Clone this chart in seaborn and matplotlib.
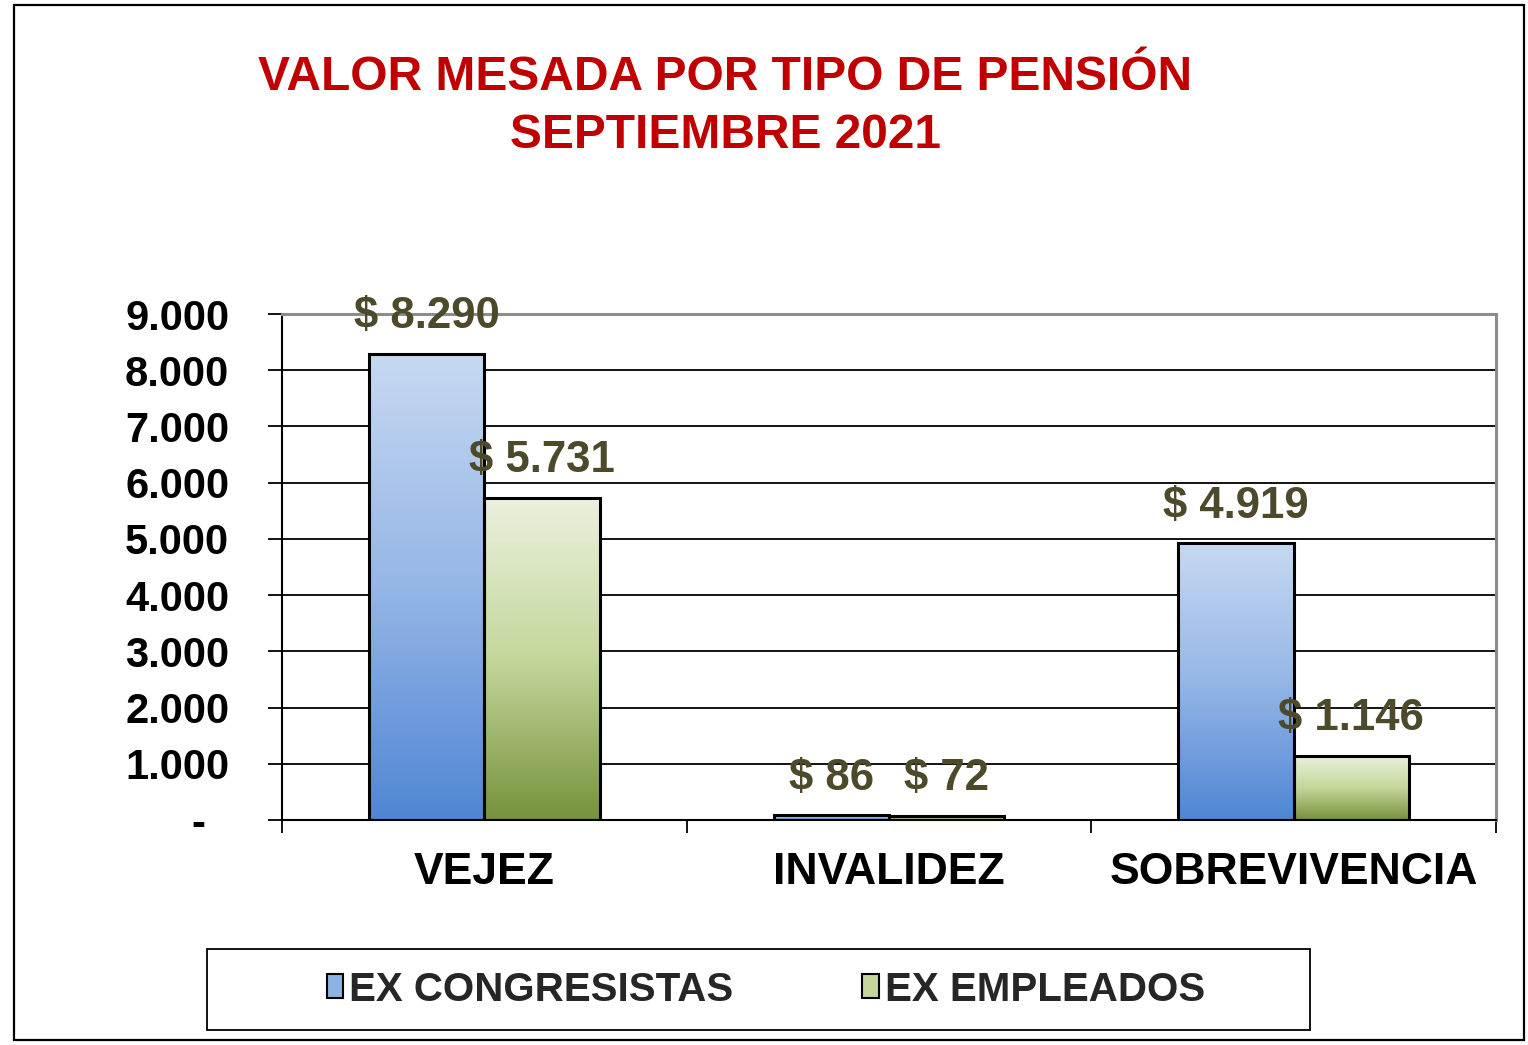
"""
Valor mesada por tipo de pensión - septiembre 2021
Barras agrupadas con relleno degradado
"""
import matplotlib
matplotlib.use('Agg')
import numpy as np
import pandas as pd
import matplotlib.pyplot as plt
import seaborn as sns
from matplotlib.colors import LinearSegmentedColormap
from matplotlib.patches import Rectangle, Patch
from matplotlib.ticker import FuncFormatter

# datos
categorias = ['VEJEZ', 'INVALIDEZ', 'SOBREVIVENCIA']
grupos = ['EX CONGRESISTAS', 'EX EMPLEADOS']
ex_congresistas = [8290, 86, 4919]
ex_empleados = [5731, 72, 1146]
y_ticks = [0, 1000, 2000, 3000, 4000, 5000, 6000, 7000, 8000, 9000]

titulo = 'VALOR MESADA POR TIPO DE PENSIÓN\nSEPTIEMBRE 2021'

df = pd.DataFrame({
    'tipo': categorias * 2,
    'grupo': [grupos[0]] * 3 + [grupos[1]] * 3,
    'valor': ex_congresistas + ex_empleados,
})

sns.set_style('white')
plt.rcParams['font.family'] = ['Liberation Sans', 'DejaVu Sans']
plt.rcParams['font.weight'] = 'bold'

fig = plt.figure(figsize=(15.28, 10.45), dpi=100)
ax = fig.add_axes([0.1846, 0.2153, 0.7945, 0.4842])

sns.barplot(data=df, x='tipo', y='valor', hue='grupo', order=categorias,
            hue_order=grupos, width=0.57, gap=0, ax=ax, legend=False,
            palette=['#8db3e2', '#c3d69b'], edgecolor='black', linewidth=2.2,
            zorder=3)

# degradado vertical dentro de cada barra
cmaps = [
    LinearSegmentedColormap.from_list('azul', ['#4f86d3', '#95b6e6', '#c6d9f1']),
    LinearSegmentedColormap.from_list('verde', ['#76923c', '#c4d79b', '#ebf1de']),
]
grad = np.linspace(0, 1, 256).reshape(-1, 1)
for cont, cmap in zip(ax.containers, cmaps):
    for bar in cont:
        x0, y0 = bar.get_x(), bar.get_y()
        w, h = bar.get_width(), bar.get_height()
        im = ax.imshow(grad, extent=[x0, x0 + w, y0, y0 + h], origin='lower',
                       cmap=cmap, aspect='auto', zorder=2.5)
        im.set_clip_path(bar)
        bar.set_facecolor('none')

# etiquetas de valor
for cont in ax.containers:
    etiquetas = [f'$ {int(b.get_height()):,}'.replace(',', '.') for b in cont]
    ax.bar_label(cont, labels=etiquetas, padding=12, fontsize=31.5,
                 fontweight='bold', color='#4d4a2b', zorder=5)

ax.set_xlim(-0.5, 2.5)
ax.set_ylim(0, 9000)
ax.set_yticks(y_ticks)
ax.yaxis.set_major_formatter(FuncFormatter(
    lambda v, p: '-  ' if v == 0 else f'{int(v):,}'.replace(',', '.')))
ax.set_xticks([0, 1, 2])
ax.set_xticklabels(categorias)
ax.set_xticks([-0.5, 0.5, 1.5, 2.5], minor=True)
ax.set_xlabel('')
ax.set_ylabel('')

ax.tick_params(axis='y', left=True, length=10, width=1.3, direction='out',
               pad=28, labelsize=30, colors='black')
ax.tick_params(axis='x', which='major', bottom=True, length=0, pad=23,
               labelsize=32, colors='black')
ax.tick_params(axis='x', which='minor', bottom=True, length=9, width=1.3,
               direction='out', color='black')

ax.set_axisbelow(True)
ax.yaxis.grid(True, color='black', lw=1.3)
ax.xaxis.grid(False)

for lado in ['top', 'right']:
    ax.spines[lado].set_color('#8c8c8c')
    ax.spines[lado].set_linewidth(2.2)
for lado in ['left', 'bottom']:
    ax.spines[lado].set_color('black')
    ax.spines[lado].set_linewidth(1.5)

fig.text(0.4745, 0.8985, titulo, ha='center', va='center', fontsize=34.5,
         fontweight='bold', color='#c00000', linespacing=1.37)

# leyenda con marco propio
handles = [Patch(facecolor='#8db3e2', edgecolor='black', lw=1.5, label=grupos[0]),
           Patch(facecolor='#c3d69b', edgecolor='black', lw=1.5, label=grupos[1])]
fig.legend(handles=handles, loc='center', bbox_to_anchor=(0.5013, 0.0531),
           ncol=2, frameon=False, fontsize=29, handlelength=0.4,
           handleheight=0.55, handletextpad=0.15, columnspacing=3.2)
fig.patches.append(Rectangle((207 / 1528, 1 - 1030 / 1045), 1103 / 1528, 81 / 1045,
                             transform=fig.transFigure, fill=False,
                             ec='black', lw=1.3))
# marco exterior
fig.patches.append(Rectangle((14 / 1528, 5 / 1045), 1510 / 1528, 1035 / 1045,
                             transform=fig.transFigure, fill=False,
                             ec='black', lw=1.6))

fig.savefig('out.png', dpi=100)
